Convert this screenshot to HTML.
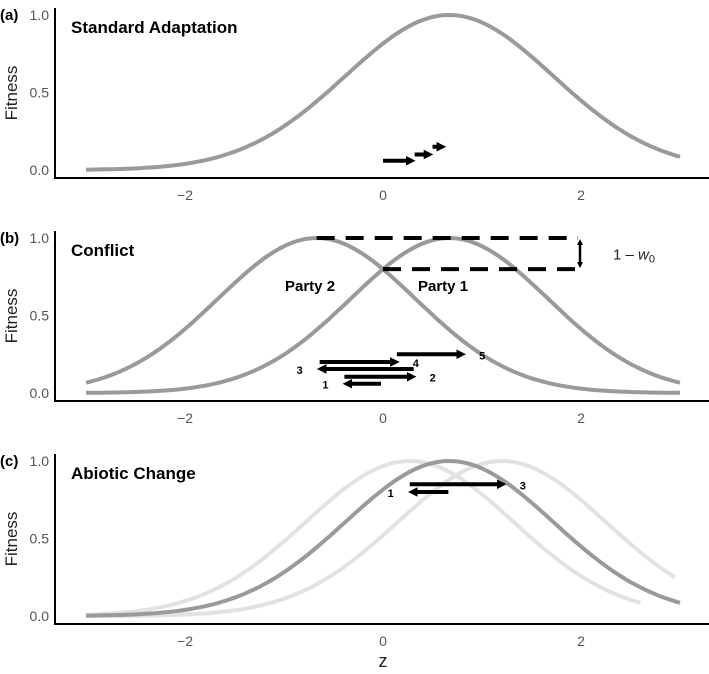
<!DOCTYPE html>
<html><head><meta charset="utf-8">
<style>
html,body{margin:0;padding:0;background:#fff;}
svg{display:block;font-family:"Liberation Sans",Arial,sans-serif;}
</style></head>
<body>
<svg id="chart" width="709" height="674" viewBox="0 0 709 674"></svg>
<script>
const xTicks = [-2, 0, 2];
const yTicks = [0, 0.5, 1];
const yTickLabels = ["0.0", "0.5", "1.0"];
const panelLetters = ["(a)", "(b)", "(c)"];
const panelTitles = ["Standard Adaptation", "Conflict", "Abiotic Change"];
// curves: panel index, optimum, width, zmin, zmax, shade
const curvePanel = [0, 1, 1, 2, 2, 2];
const curveOptimum = [0.67, -0.67, 0.67, 0.27, 1.2, 0.67];
const curveWidth = [1.05, 1.0, 1.0, 1.05, 1.05, 1.05];
const curveZmin = [-3, -3, -3, -3, -3, -3];
const curveZmax = [3, 3, 3, 2.6, 2.95, 3];
const curveShade = ["mid", "mid", "mid", "light", "light", "mid"];
// arrows: panel, z start, z end (head at end), fitness level, label
const arrowPanel = [0, 0, 0, 1, 1, 1, 1, 1, 2, 2];
const arrowStart = [0.0, 0.32, 0.5, 0.14, -0.64, 0.31, -0.39, -0.02, 0.27, 0.66];
const arrowEnd = [0.32, 0.5, 0.63, 0.83, 0.16, -0.66, 0.33, -0.40, 1.24, 0.26];
const arrowLevel = [0.06, 0.1, 0.15, 0.25, 0.2, 0.155, 0.105, 0.06, 0.85, 0.8];
const arrowLabel = ["", "", "", "5", "4", "3", "2", "1", "3", "1"];

const NS = "http://www.w3.org/2000/svg";
const svg = document.getElementById("chart");
const X0 = 383, UX = 99, AX = 55;
const panelV0 = [170, 393, 616];
const UY = 155;
function sx(z){ return X0 + z*UX; }
function sy(p, v){ return panelV0[p] - v*UY; }
function mk(tag, attrs, parent){
  const e = document.createElementNS(NS, tag);
  for (const k in attrs) e.setAttribute(k, attrs[k]);
  (parent||svg).appendChild(e);
  return e;
}
const defs = mk("defs", {});
const mkr = mk("marker", {id:"head", viewBox:"0 0 10 10", refX:"5", refY:"5", markerWidth:"2.4", markerHeight:"2.4", orient:"auto"}, defs);
mk("path", {d:"M0,0 L10,5 L0,10 z", fill:"#000"}, mkr);
const mkr2 = mk("marker", {id:"head2", viewBox:"0 0 10 10", refX:"5", refY:"5", markerWidth:"2.4", markerHeight:"2.4", orient:"auto-start-reverse"}, defs);
mk("path", {d:"M0,0 L10,5 L0,10 z", fill:"#000"}, mkr2);

for (let p = 0; p < 3; p++) {
  const g = mk("g", {});
  
  
  const v0 = panelV0[p];
  const ya = mk("line", {x1:AX, y1:v0-162, x2:AX, y2:v0+8, stroke:"#000", "stroke-width":2}, g);
  
  
  const xa = mk("line", {x1:AX-1, y1:v0+8, x2:709, y2:v0+8, stroke:"#000", "stroke-width":2}, g);
  
  
  yTicks.forEach((v,i)=>{
    const t = mk("text", {x:49, y:sy(p,v)+5, "text-anchor":"end", "font-size":"14", fill:"#555"}, g);
    t.textContent = yTickLabels[i];
    
    
  });
  xTicks.forEach(v=>{
    const t = mk("text", {x:sx(v), y:v0+30, "text-anchor":"middle", "font-size":"14", fill:"#555"}, g);
    t.textContent = v < 0 ? "\u2212" + Math.abs(v) : String(v);
    
    
  });
  const yl = mk("text", {x:0, y:0, transform:"translate(17,"+(v0-77)+") rotate(-90)", "text-anchor":"middle", "font-size":"17", fill:"#222"}, g);
  yl.textContent = "Fitness";
  
  
  const pl = mk("text", {x:0, y:v0-150, "font-size":"15", "font-weight":"bold"}, g);
  pl.textContent = panelLetters[p];
  
  
  const tt = mk("text", {x:71, y:v0-137, "font-size":"17", "font-weight":"bold"}, g);
  tt.textContent = panelTitles[p];
  
  
}

// curves (light first)
const order = curvePanel.map((_,i)=>i).sort((a,b)=>(curveShade[a]==="light"?0:1)-(curveShade[b]==="light"?0:1));
order.forEach(i=>{
  const p = curvePanel[i];
  let d = "";
  const n = 120;
  for (let k = 0; k <= n; k++) {
    const z = curveZmin[i] + (curveZmax[i]-curveZmin[i])*k/n;
    const v = Math.exp(-Math.pow(z-curveOptimum[i],2)/(2*curveWidth[i]*curveWidth[i]));
    d += (k?"L":"M") + sx(z).toFixed(1) + "," + sy(p,v).toFixed(1);
  }
  const c = mk("path", {d:d, fill:"none", stroke: curveShade[i]==="light" ? "#e2e2e2" : "#9a9a9a", "stroke-width":4});
  
  
});

// conflict dashed annotation
(function(){
  const p = 1;
  const top = sy(p, 1), cross = sy(p, Math.exp(-Math.pow(0.67,2)/2));
  const xr = 578;
  const d1 = mk("line", {x1:sx(-0.67), y1:top, x2:xr, y2:top, stroke:"#000", "stroke-width":4, "stroke-dasharray":"18,11"});
  
  
  const d2 = mk("line", {x1:sx(0), y1:cross, x2:xr, y2:cross, stroke:"#000", "stroke-width":4, "stroke-dasharray":"18,11"});
  
  
  const va = mk("line", {x1:xr+2, y1:top+4, x2:xr+2, y2:cross-4, stroke:"#000", "stroke-width":2.5, "marker-start":"url(#head2)", "marker-end":"url(#head2)"});
  
  
  const lt = mk("text", {x:613, y:(top+cross)/2+6, "font-size":"15", fill:"#222"});
  lt.innerHTML = '1 \u2013 <tspan font-style="italic">w</tspan><tspan font-size="11" dy="3">0</tspan>';
  
  
  const p2 = mk("text", {x:285, y:291, "font-size":"15", "font-weight":"bold"});
  p2.textContent = "Party 2";
  
  
  const p1 = mk("text", {x:418, y:291, "font-size":"15", "font-weight":"bold"});
  p1.textContent = "Party 1";
  
  
})();

// arrows
arrowPanel.forEach((p,i)=>{
  const y = sy(p, arrowLevel[i]);
  const x1 = sx(arrowStart[i]), x2 = sx(arrowEnd[i]);
  const dir = x2 > x1 ? 1 : -1;
  const a = mk("line", {x1:x1, y1:y, x2:x2 - dir*4, y2:y, stroke:"#000", "stroke-width":4, "marker-end":"url(#head)"});
  
  
  if (arrowLabel[i]) {
    const lx = dir > 0 ? x2 + 17 : x2 - 18;
    const t = mk("text", {x:lx, y:y+5, "text-anchor":"middle", "font-size":"11", "font-weight":"bold"});
    t.textContent = arrowLabel[i];
    
    
  }
});

const zl = mk("text", {x:383, y:667, "text-anchor":"middle", "font-size":"18", fill:"#222"});
zl.textContent = "z";


</script>
</body></html>
